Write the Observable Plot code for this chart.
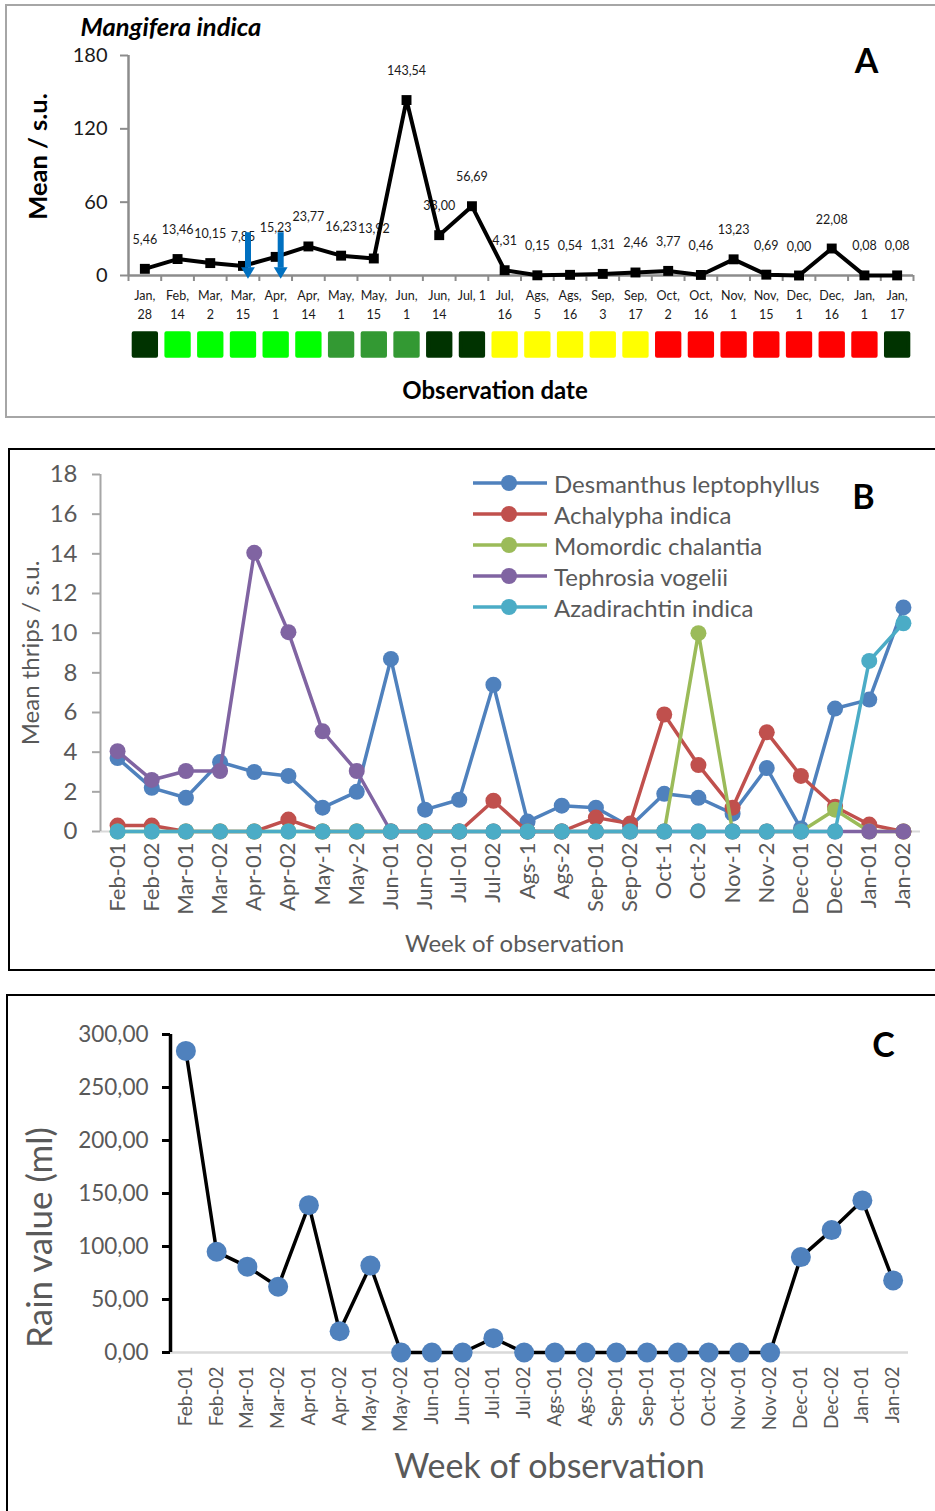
<!DOCTYPE html>
<html><head><meta charset="utf-8">
<script src="https://cdn.jsdelivr.net/npm/d3@7"></script>
<script src="https://cdn.jsdelivr.net/npm/@observablehq/plot@0.6"></script>
<style>
html,body{margin:0;padding:0;background:#fff;}
#page{position:relative;width:935px;height:1511px;overflow:hidden;font-family:Lato,sans-serif;background:#fff;}
.border{position:absolute;box-sizing:border-box;pointer-events:none;}
.leg{position:absolute;display:flex;align-items:center;height:30px;font-family:Lato,sans-serif;font-size:24px;color:#595959;white-space:nowrap;}
.leg svg{margin-right:7px;}
</style></head><body><div id="page"></div>
<script>
// ---------- Panel A data ----------
const datesA = ["Jan,\n28","Feb,\n14","Mar,\n2","Mar,\n15","Apr,\n1","Apr,\n14","May,\n1","May,\n15","Jun,\n1","Jun,\n14","Jul, 1","Jul,\n16","Ags,\n5","Ags,\n16","Sep,\n3","Sep,\n17","Oct,\n2","Oct,\n16","Nov,\n1","Nov,\n15","Dec,\n1","Dec,\n16","Jan,\n1","Jan,\n17"];
const valuesA = [5.46,13.46,10.15,7.85,15.23,23.77,16.23,13.92,143.54,33.00,56.69,4.31,0.15,0.54,1.31,2.46,3.77,0.46,13.23,0.69,0.00,22.08,0.08,0.08];
const phasesA = ["dark","light","light","light","light","light","mid","mid","mid","dark","dark","yellow","yellow","yellow","yellow","yellow","red","red","red","red","red","red","red","dark"];
const yTicksA = [0,60,120,180];
const arrowDatesA = ["Mar,\n15","Apr,\n1"];
const arrowTopA = 35;

// ---------- Panel B data ----------
const catsB = ["Feb-01","Feb-02","Mar-01","Mar-02","Apr-01","Apr-02","May-1","May-2","Jun-01","Jun-02","Jul-01","Jul-02","Ags-1","Ags-2","Sep-01","Sep-02","Oct-1","Oct-2","Nov-1","Nov-2","Dec-01","Dec-02","Jan-01","Jan-02"];
const seriesB = ["Desmanthus leptophyllus","Achalypha indica","Momordic chalantia","Tephrosia vogelii","Azadirachtin indica"];
const desmanthus  = [3.7,2.2,1.7,3.5,3.0,2.8,1.2,2.0,8.7,1.1,1.6,7.4,0.5,1.3,1.2,0.25,1.9,1.7,0.9,3.2,0.15,6.2,6.65,11.3];
const achalypha   = [0.3,0.3,0,0,0,0.6,0,0,0,0,0,1.55,0,0,0.7,0.4,5.9,3.35,1.2,5.0,2.8,1.25,0.35,0];
const momordica   = [0,0,0,0,0,0,0,0,0,0,0,0,0,0,0,0,0,10.0,0,0,0,1.1,0,0];
const tephrosia   = [4.05,2.6,3.05,3.05,14.05,10.05,5.05,3.05,0,0,0,0,0,0,0,0,0,0,0,0,0,0,0,0];
const azadirachtin= [0,0,0,0,0,0,0,0,0,0,0,0,0,0,0,0,0,0,0,0,0,0,8.6,10.5];
const valuesB = [desmanthus, achalypha, momordica, tephrosia, azadirachtin];
const yTicksB = [0,2,4,6,8,10,12,14,16,18];

// ---------- Panel C data ----------
const catsC = ["Feb-01","Feb-02","Mar-01","Mar-02","Apr-01","Apr-02","May-01","May-02","Jun-01","Jun-02","Jul-01","Jul-02","Ags-01","Ags-02","Sep-01","Sep-01","Oct-01","Oct-02","Nov-01","Nov-02","Dec-01","Dec-02","Jan-01","Jan-02"];
const rainC = [284.5,95,81,62,139,20,82,0,0,0,13.5,0,0,0,0,0,0,0,0,0,90,115.5,143.5,68];
const yTicksC = [0,50,100,150,200,250,300];

// ---------- styles ----------
const phaseColor = {dark:"#003300", light:"#00ff00", mid:"#339933", yellow:"#ffff00", red:"#ff0000"};
const colorsB = ["#4f81bd","#c0504d","#9bbb59","#8064a2","#4bacc6"];
const FONT = "Lato, sans-serif";
const page = document.getElementById("page");
const fmtComma = v => v.toFixed(2).replace(".", ",");

function place(el, top){ el.style.position="absolute"; el.style.left="0px"; el.style.top=top+"px"; page.appendChild(el); }
function border(left, top, width, height, color, w){
  const d=document.createElement("div"); d.className="border";
  Object.assign(d.style,{left:left+"px",top:top+"px",width:width+"px",height:height+"px",border:`${w}px solid ${color}`});
  page.appendChild(d);
}
const downTriangle = {draw(ctx, size){ const s=Math.sqrt(size); ctx.moveTo(-0.6*s,-0.45*s); ctx.lineTo(0.6*s,-0.45*s); ctx.lineTo(0,0.55*s); ctx.closePath(); }};

// ================= Panel A =================
{
  const n = datesA.length;
  const W=935,H=420,ml=128,mr=22,mt=55,mb=145;
  const kx=(W-ml-mr)/n, ky=(H-mt-mb)/180;
  const rows = datesA.map((d,i)=>({i,label:d,v:valuesA[i],color:phaseColor[phasesA[i]]}));
  const arrows = arrowDatesA.map(d=>datesA.indexOf(d));
  const gray="#8c8c8c";
  const svg = Plot.plot({
    width:W,height:H,marginLeft:ml,marginRight:mr,marginTop:mt,marginBottom:mb,
    x:{domain:[-0.5,n-0.5],axis:null}, y:{domain:[0,180],axis:null}, color:{type:"identity"},
    style:{fontFamily:FONT,background:"none",overflow:"visible"},
    marks:[
      Plot.ruleY(yTicksA,{x1:-0.5-8/kx,x2:-0.5,stroke:gray,strokeWidth:2}),
      Plot.ruleX([-0.5],{y1:0,y2:180,stroke:gray,strokeWidth:2.5}),
      Plot.ruleX(d3.range(n+1).map(i=>i-0.5),{y1:0,y2:-6/ky,stroke:gray,strokeWidth:2}),
      Plot.ruleY([0],{x1:-0.5,x2:n-0.5,stroke:gray,strokeWidth:2.5}),
      Plot.text(yTicksA,{x:-0.5,y:d=>d,text:d=>String(d),dx:-21,textAnchor:"end",fontSize:20,fill:"#1a1a1a"}),
      Plot.text(rows,{x:"i",y:0,text:"label",dy:11,lineAnchor:"top",fontSize:12.5,lineHeight:1.5,fill:"#1a1a1a"}),
      Plot.dot(rows,{x:"i",y:0,dy:69,symbol:"square",r:12.6,fill:"color",stroke:"color",strokeWidth:4,strokeLinejoin:"round"}),
      Plot.text(rows,{x:"i",y:"v",text:d=>fmtComma(d.v),dy:-29,fontSize:12.5,fill:"#1a1a1a"}),
      Plot.line(rows,{x:"i",y:"v",stroke:"#000",strokeWidth:4}),
      Plot.dot(rows,{x:"i",y:"v",symbol:"square",r:5.6,fill:"#000"}),
      Plot.ruleX(arrows,{x:d=>d,y1:arrowTopA,y2:6,stroke:"#0070c0",strokeWidth:6,dx:5}),
      Plot.dot(arrows,{x:d=>d,y:0,symbol:downTriangle,r:6.5,fill:"#0070c0",dx:5,dy:-3}),
      Plot.text(["Mangifera indica"],{frameAnchor:"top-left",text:d=>d,textAnchor:"start",lineAnchor:"middle",dx:-48,dy:-28,fontSize:25.5,fontWeight:"bold",fontStyle:"italic",fill:"#000"}),
      Plot.text(["A"],{frameAnchor:"top-right",text:d=>d,textAnchor:"middle",lineAnchor:"middle",dx:-47,dy:7,fontSize:34,fontWeight:"bold",fill:"#000"}),
      Plot.text(["Observation date"],{frameAnchor:"bottom",text:d=>d,textAnchor:"middle",lineAnchor:"middle",dx:-26,dy:116,fontSize:24,fontWeight:"bold",fill:"#000"}),
      Plot.text(["Mean / s.u."],{frameAnchor:"left",text:d=>d,textAnchor:"middle",lineAnchor:"middle",rotate:-90,dx:-90,dy:-9,fontSize:25.5,fontWeight:"bold",fill:"#000"})
    ]
  });
  place(svg,0);
  border(5,4,960,414,"#a6a6a6",2);
}

// ================= Panel B =================
{
  const n = catsB.length;
  const W=935,H=535,ml=100,mr=15,mt=34,mb=144,top=440;
  const kx=(W-ml-mr)/n;
  const axisGray="#a6a6a6", txt="#595959";
  const seriesMarks = seriesB.flatMap((name,s)=>{
    const rows = catsB.map((c,i)=>({i,v:valuesB[s][i]}));
    return [Plot.line(rows,{x:"i",y:"v",stroke:colorsB[s],strokeWidth:3.5}),
            Plot.dot(rows,{x:"i",y:"v",r:8,fill:colorsB[s]})];
  });
  const svg = Plot.plot({
    width:W,height:H,marginLeft:ml,marginRight:mr,marginTop:mt,marginBottom:mb,
    x:{domain:[-0.5,n-0.5],axis:null}, y:{domain:[0,18],axis:null},
    style:{fontFamily:FONT,background:"none",overflow:"visible"},
    marks:[
      Plot.ruleY([0],{x1:-0.5,x2:n-0.5,stroke:"#d9d9d9",strokeWidth:2}),
      Plot.ruleY(yTicksB,{x1:-0.5-8/kx,x2:-0.5,stroke:axisGray,strokeWidth:2}),
      Plot.ruleX([-0.5],{y1:0,y2:18,stroke:axisGray,strokeWidth:2}),
      Plot.text(yTicksB,{x:-0.5,y:d=>d,text:d=>String(d),dx:-23,textAnchor:"end",fontSize:24,fill:txt}),
      Plot.text(catsB,{x:(d,i)=>i,y:0,text:d=>d,rotate:-90,textAnchor:"end",lineAnchor:"middle",dy:11,fontSize:22,fill:txt}),
      ...seriesMarks,
      Plot.text(["Week of observation"],{frameAnchor:"bottom",text:d=>d,textAnchor:"middle",lineAnchor:"middle",dx:4,dy:113,fontSize:24,fill:txt}),
      Plot.text(["Mean thrips / s.u."],{frameAnchor:"left",text:d=>d,textAnchor:"middle",lineAnchor:"middle",rotate:-90,dx:-69,dy:0,fontSize:24,fill:txt}),
      Plot.text(["B"],{frameAnchor:"top-right",text:d=>d,textAnchor:"middle",lineAnchor:"middle",dx:-57,dy:24,fontSize:34,fontWeight:"bold",fill:"#000"})
    ]
  });
  place(svg,top);
  // legend
  seriesB.forEach((name,s)=>{
    const row=document.createElement("div"); row.className="leg";
    row.style.left="473px"; row.style.top=(468+s*31)+"px";
    row.innerHTML=`<svg width="74" height="20"><line x1="0" y1="10" x2="74" y2="10" stroke="${colorsB[s]}" stroke-width="3.5"/><circle cx="36" cy="10" r="8" fill="${colorsB[s]}"/></svg><span>${name}</span>`;
    page.appendChild(row);
  });
  border(8,448,960,523,"#000",2);
}

// ================= Panel C =================
{
  const n = catsC.length;
  const W=935,H=526,ml=170,mr=27,mt=49,mb=159,top=985;
  const kx=(W-ml-mr)/n;
  const txt="#595959";
  const rows = catsC.map((c,i)=>({i,label:c,v:rainC[i]}));
  const svg = Plot.plot({
    width:W,height:H,marginLeft:ml,marginRight:mr,marginTop:mt,marginBottom:mb,
    x:{domain:[-0.5,n-0.5],axis:null}, y:{domain:[0,300],axis:null},
    style:{fontFamily:FONT,background:"none",overflow:"visible"},
    marks:[
      Plot.ruleY([0],{x1:-0.5,x2:n-0.5,stroke:"#d9d9d9",strokeWidth:2.5}),
      Plot.ruleY(yTicksC,{x1:-0.5-8/kx,x2:-0.5,stroke:"#000",strokeWidth:3}),
      Plot.ruleX([-0.5],{y1:0,y2:300,stroke:"#000",strokeWidth:3.5}),
      Plot.text(yTicksC,{x:-0.5,y:d=>d,text:d=>fmtComma(d),dx:-22,textAnchor:"end",fontSize:22.5,fill:txt}),
      Plot.text(rows,{x:"i",y:0,text:"label",rotate:-90,textAnchor:"end",lineAnchor:"middle",dy:14,fontSize:19,fill:txt}),
      Plot.line(rows,{x:"i",y:"v",stroke:"#000",strokeWidth:3.5}),
      Plot.dot(rows,{x:"i",y:"v",r:10,fill:"#4f81bd"}),
      Plot.text(["Week of observation"],{frameAnchor:"bottom",text:d=>d,textAnchor:"middle",lineAnchor:"middle",dx:10,dy:115,fontSize:34,fill:txt}),
      Plot.text(["Rain value (ml)"],{frameAnchor:"left",text:d=>d,textAnchor:"middle",lineAnchor:"middle",rotate:-90,dx:-130,dy:44,fontSize:35,fill:txt}),
      Plot.text(["C"],{frameAnchor:"top-right",text:d=>d,textAnchor:"middle",lineAnchor:"middle",dx:-25,dy:12,fontSize:34,fontWeight:"bold",fill:"#000"})
    ]
  });
  place(svg,top);
  border(6,994,960,560,"#000",2);
}
</script></body></html>
